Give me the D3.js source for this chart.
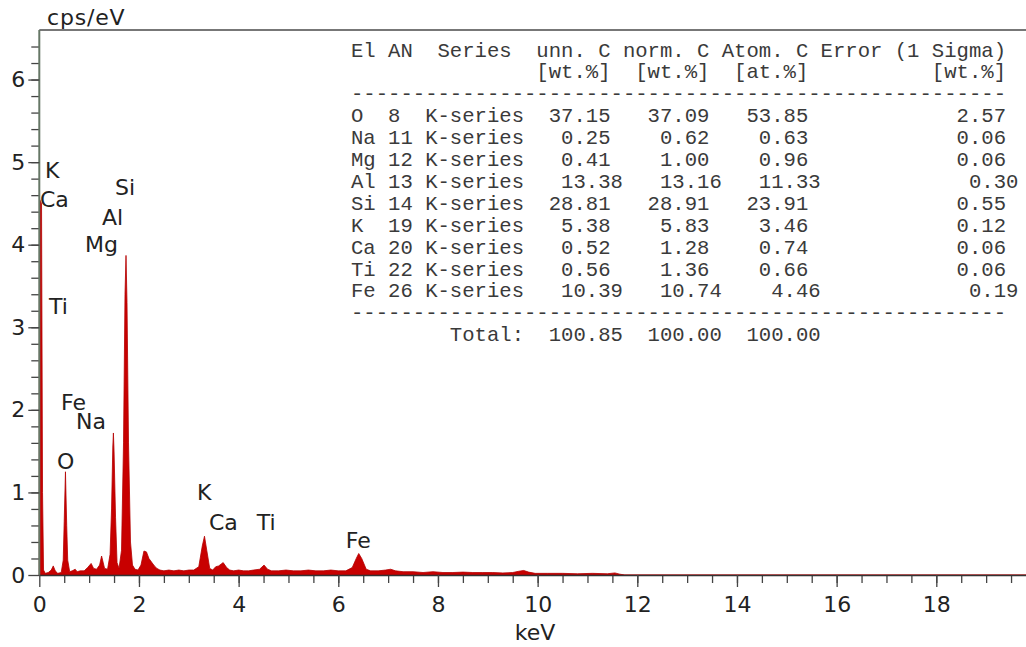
<!DOCTYPE html>
<html>
<head>
<meta charset="utf-8">
<script src="https://cdn.jsdelivr.net/npm/d3@7"></script>
<style>
  body { margin: 0; background: #fff; }
  #mount svg { display: block; }
  .tbl { font-family: "Liberation Mono", "Courier New", monospace; font-size: 20.6px; fill: #3a3a3a; white-space: pre; }
  .lbl { font-family: "DejaVu Sans", Verdana, sans-serif; font-size: 22px; fill: #222; }
</style>
</head>
<body>
<div id="mount"></div>
<script>
// spectrum (keV, cps/eV)
var energy = [0.00, 0.005, 0.045, 0.065, 0.085, 0.12, 0.18, 0.24, 0.28, 0.32, 0.37, 0.44, 0.48, 0.50,
  0.525, 0.55, 0.57, 0.61, 0.66, 0.72, 0.76, 0.82, 0.90, 0.97, 1.04, 1.09, 1.15, 1.21, 1.25, 1.31,
  1.37, 1.42, 1.45, 1.475, 1.487, 1.50, 1.53, 1.56, 1.60, 1.65, 1.69, 1.72, 1.74, 1.76, 1.79, 1.83,
  1.87, 1.92, 1.98, 2.04, 2.10, 2.15, 2.20, 2.26, 2.31, 2.36, 2.42, 2.5, 2.6, 2.7, 2.8, 2.9, 3.0,
  3.1, 3.2, 3.27, 3.315, 3.36, 3.42, 3.48, 3.54, 3.6, 3.69, 3.76, 3.82, 3.9, 4.0, 4.1, 4.2, 4.3,
  4.42, 4.51, 4.58, 4.66, 4.8, 4.95, 5.1, 5.25, 5.4, 5.55, 5.7, 5.85, 6.0, 6.15, 6.28, 6.36, 6.41,
  6.47, 6.56, 6.65, 6.8, 6.95, 7.05, 7.15, 7.3, 7.5, 7.7, 7.9, 8.1, 8.3, 8.5, 8.7, 8.9, 9.1, 9.3,
  9.5, 9.62, 9.72, 9.82, 9.95, 10.2, 10.5, 10.8, 11.1, 11.4, 11.55, 11.65, 11.75, 19.8];
var counts = [0, 4.55, 4.5, 1.0, 0.06, 0.02, 0.03, 0.06, 0.11, 0.05, 0.02, 0.03, 0.18, 0.65,
  1.25, 0.6, 0.18, 0.04, 0.05, 0.07, 0.04, 0.05, 0.05, 0.09, 0.14, 0.08, 0.07, 0.12, 0.23, 0.08,
  0.07, 0.25, 0.8, 1.55, 1.72, 1.5, 0.7, 0.15, 0.08, 0.3, 1.6, 3.4, 3.87, 3.3, 1.6, 0.4,
  0.12, 0.07, 0.06, 0.12, 0.29, 0.28, 0.2, 0.15, 0.11, 0.08, 0.06, 0.05, 0.06, 0.05, 0.06, 0.05, 0.06,
  0.06, 0.1, 0.35, 0.47, 0.3, 0.08, 0.06, 0.1, 0.11, 0.15, 0.09, 0.06, 0.05, 0.06, 0.05, 0.05, 0.06,
  0.07, 0.12, 0.07, 0.05, 0.05, 0.06, 0.05, 0.05, 0.06, 0.05, 0.05, 0.06, 0.05, 0.05, 0.09, 0.2, 0.26,
  0.2, 0.07, 0.05, 0.05, 0.06, 0.07, 0.05, 0.04, 0.04, 0.03, 0.04, 0.03, 0.03, 0.035, 0.03, 0.03, 0.03, 0.025,
  0.03, 0.045, 0.055, 0.035, 0.02, 0.02, 0.02, 0.015, 0.02, 0.015, 0.025, 0.01, 0, 0];

// peak labels (text, keV, cps/eV of the label baseline)
var peakNames = ["K", "Ca", "Ti", "Si", "Al", "Mg", "Fe", "Na", "O", "K", "Ca", "Ti", "Fe"];
var peakE = [0.114, 0.014, 0.195, 1.518, 1.258, 0.917, 0.435, 0.736, 0.355, 3.163, 3.404, 4.366, 6.151];
var peakC = [4.81, 4.455, 3.16, 4.60, 4.237, 3.91, 2.0, 1.77, 1.283, 0.908, 0.545, 0.545, 0.327];

// quantification table
var elements = ["O", "Na", "Mg", "Al", "Si", "K", "Ca", "Ti", "Fe"];
var atomicNo = [8, 11, 12, 13, 14, 19, 20, 22, 26];
var unnC = ["37.15", "0.25", "0.41", "13.38", "28.81", "5.38", "0.52", "0.56", "10.39"];
var normC = ["37.09", "0.62", "1.00", "13.16", "28.91", "5.83", "1.28", "1.36", "10.74"];
var atomC = ["53.85", "0.63", "0.96", "11.33", "23.91", "3.46", "0.74", "0.66", "4.46"];
var sigma = ["2.57", "0.06", "0.06", "0.30", "0.55", "0.12", "0.06", "0.06", "0.19"];
var totals = ["100.85", "100.00", "100.00"];
var shiftedRows = ["Al", "Fe"];

var xTicks = d3.range(0, 20, 2);
var yTicks = d3.range(0, 7, 1);

var W = 1026, H = 647;
var x = d3.scaleLinear().domain([0, 19.8]).range([39.3, 1026]);
var y = d3.scaleLinear().domain([0, 6.6]).range([575, 30]);

var svg = d3.select('#mount').append('svg').attr('width', W).attr('height', H);
svg.append('rect').attr('width', W).attr('height', H).attr('fill', '#fff');

var spec = energy.map(function (e, i) { return { e: e, c: counts[i] }; });
var area = d3.area()
  .x(function (d) { return x(d.e); })
  .y0(y(0))
  .y1(function (d) { return y(d.c); });

svg.append('path')
  .datum(spec)
  .attr('d', area)
  .attr('fill', '#c80000')
  .attr('stroke', '#b40000')
  .attr('stroke-width', 0.8);

// top frame
svg.append('line')
  .attr('x1', x(0)).attr('x2', W)
  .attr('y1', y(6.6)).attr('y2', y(6.6))
  .attr('stroke', '#777').attr('stroke-width', 2);

// y axis: minor + major ticks
var yMinor = svg.append('g').attr('transform', 'translate(' + x(0) + ',0)')
  .call(d3.axisLeft(y).tickValues(d3.range(0.2, 6.5, 0.2)).tickSize(8).tickFormat(''));
yMinor.select('.domain').remove();
var yMajor = svg.append('g').attr('transform', 'translate(' + x(0) + ',0)')
  .call(d3.axisLeft(y).tickValues(yTicks).tickSize(11).tickSizeOuter(0).tickPadding(3).tickFormat(d3.format('d')));
yMajor.select('.domain').attr('d', 'M0,' + y(6.6) + 'V' + y(0)).attr('stroke', '#667766').attr('stroke-width', 2);

// x axis
var xMinor = svg.append('g').attr('transform', 'translate(0,' + y(0) + ')')
  .call(d3.axisBottom(x).tickValues(d3.range(0.5, 19.8, 0.5)).tickSize(8).tickFormat(''));
xMinor.select('.domain').remove();
var xMajor = svg.append('g').attr('transform', 'translate(0,' + y(0) + ')')
  .call(d3.axisBottom(x).tickValues(xTicks).tickSize(12).tickSizeOuter(0).tickPadding(9).tickFormat(d3.format('d')));
xMajor.select('.domain').attr('stroke', '#333').attr('stroke-width', 1.5);

svg.selectAll('.tick line').attr('stroke', '#444').attr('stroke-width', 1.3);
svg.selectAll('.tick text').attr('class', 'lbl').attr('font-family', null).attr('font-size', null).attr('fill', null);

svg.append('text').attr('class', 'lbl').attr('x', 47).attr('y', 25).style('letter-spacing', '0.8px').text('cps/eV');
svg.append('text').attr('class', 'lbl').attr('x', 535).attr('y', 640).attr('text-anchor', 'middle').text('keV');

svg.append('g').selectAll('text')
  .data(peakNames)
  .enter()
  .append('text')
  .attr('class', 'lbl')
  .attr('x', function (d, i) { return x(peakE[i]); })
  .attr('y', function (d, i) { return y(peakC[i]); })
  .text(function (d) { return d; });

// table lines
var dashes = '-'.repeat(53);
var lines = [
  'El AN  Series  unn. C norm. C Atom. C Error (1 Sigma)',
  ' '.repeat(15) + '[wt.%]  [wt.%]  [at.%]' + ' '.repeat(10) + '[wt.%]',
  dashes
];
elements.forEach(function (el, i) {
  var pad = shiftedRows.indexOf(el) >= 0 ? 8 : 7;
  lines.push(el.padEnd(3) + String(atomicNo[i]).padEnd(3) + 'K-series' +
    unnC[i].padStart(pad) + normC[i].padStart(8) + atomC[i].padStart(8) + sigma[i].padStart(16));
});
lines.push(dashes);
lines.push('        Total:' + totals[0].padStart(8) + totals[1].padStart(8) + totals[2].padStart(8));

svg.append('g').selectAll('text')
  .data(lines)
  .enter()
  .append('text')
  .attr('class', 'tbl')
  .attr('x', 351)
  .attr('y', function (d, i) { return 56.5 + i * 21.9; })
  .text(function (d) { return d; });
</script>
</body>
</html>
